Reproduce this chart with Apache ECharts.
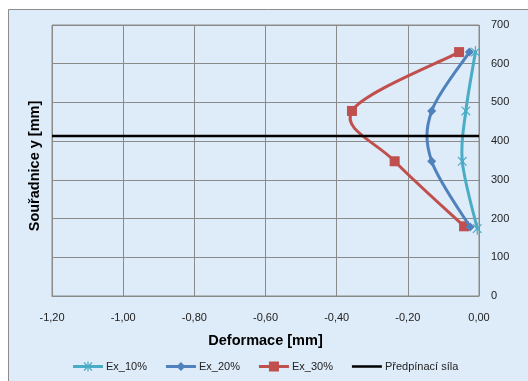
<!DOCTYPE html>
<html>
<head>
<meta charset="utf-8">
<script src="https://cdn.jsdelivr.net/npm/echarts@6/dist/echarts.min.js"></script>
<style>
html,body{margin:0;padding:0;background:#fff;}
#c{width:528px;height:381px;}
</style>
</head>
<body>
<div id="c"></div>
<script>
var seriesNames = ['Ex_10%', 'Ex_20%', 'Ex_30%', 'Předpínací síla'];
var ex10 = [[-0.010, 630], [-0.037, 478], [-0.047, 348], [-0.005, 174]];
var ex20 = [[-0.027, 630], [-0.133, 478], [-0.133, 348], [-0.025, 178]];
var ex30 = [[-0.056, 630], [-0.357, 478], [-0.237, 348], [-0.042, 180]];
var predpinaci = [[-1.2, 413], [0, 413]];
var xTitle = 'Deformace [mm]';
var yTitle = 'Souřadnice y [mm]';

var FONT = 'Liberation Sans';
var C10 = '#4BACC6', C20 = '#4F81BD', C30 = '#C0504D';

function markerShapes(kind, p, color) {
  var x = p[0], y = p[1];
  if (kind === 'rect') {
    return [{type: 'rect', shape: {x: x - 5, y: y - 5, width: 10, height: 10}, style: {fill: color}}];
  }
  if (kind === 'diamond') {
    return [{type: 'polygon', shape: {points: [[x, y - 4.5], [x + 4.5, y], [x, y + 4.5], [x - 4.5, y]]}, style: {fill: color}}];
  }
  // asterisk
  var r = 6, d = 4.3;
  return [
    {type: 'line', shape: {x1: x, y1: y - r, x2: x, y2: y + r}, style: {stroke: color, lineWidth: 1.2}},
    {type: 'line', shape: {x1: x - d, y1: y - d, x2: x + d, y2: y + d}, style: {stroke: color, lineWidth: 1.2}},
    {type: 'line', shape: {x1: x + d, y1: y - d, x2: x - d, y2: y + d}, style: {stroke: color, lineWidth: 1.2}}
  ];
}

function smoothSeries(name, arr, color, kind, z) {
  return {
    name: name, type: 'custom', z: z, data: arr,
    itemStyle: {color: color},
    renderItem: function (params, api) {
      var i = params.dataIndex, n = arr.length;
      var pt = function (k) { k = Math.max(0, Math.min(n - 1, k)); return api.coord(arr[k]); };
      var children = [];
      if (i < n - 1) {
        var p0 = pt(i - 1), p1 = pt(i), p2 = pt(i + 1), p3 = pt(i + 2);
        var t = 1 / 6;
        var c1 = [p1[0] + (p2[0] - p0[0]) * t, p1[1] + (p2[1] - p0[1]) * t];
        var c2 = [p2[0] - (p3[0] - p1[0]) * t, p2[1] - (p3[1] - p1[1]) * t];
        children.push({type: 'bezierCurve',
          shape: {x1: p1[0], y1: p1[1], cpx1: c1[0], cpy1: c1[1], cpx2: c2[0], cpy2: c2[1], x2: p2[0], y2: p2[1]},
          style: {stroke: color, lineWidth: 3, fill: null, lineCap: 'round'}});
      }
      children = children.concat(markerShapes(kind, pt(i), color));
      return {type: 'group', children: children};
    }
  };
}

var chart = echarts.init(document.getElementById('c'), null, {renderer: 'canvas'});
chart.setOption({
  animation: false,
  backgroundColor: '#ffffff',
  graphic: [{
    type: 'rect', z: -10, silent: true,
    shape: {x: 8.5, y: 9.5, width: 540, height: 400},
    style: {fill: '#DEEBF8', stroke: '#8c8c8c', lineWidth: 1}
  }, {
    type: 'text', silent: true, x: 35, y: 166, rotation: Math.PI / 2,
    style: {text: yTitle, font: 'bold 14.5px "Liberation Sans"', fill: '#000', align: 'center', verticalAlign: 'middle'}
  }],
  grid: {left: 52, top: 25, right: 49, bottom: 85, outerBoundsMode: 'none', containLabel: false,
    show: true, borderColor: '#8a8a8a', borderWidth: 1, backgroundColor: 'transparent'},
  xAxis: {
    type: 'value', min: -1.2, max: 0, interval: 0.2,
    name: xTitle, nameLocation: 'middle', nameGap: 37,
    nameTextStyle: {fontFamily: FONT, fontSize: 14.5, fontWeight: 'bold', color: '#000'},
    axisLine: {show: true, lineStyle: {color: '#8a8a8a'}},
    axisTick: {show: false},
    axisLabel: {fontFamily: FONT, fontSize: 11, color: '#222', margin: 16,
      formatter: function (v) { return v.toFixed(2).replace('.', ','); }},
    splitLine: {show: true, lineStyle: {color: '#8a8a8a', width: 1}}
  },
  yAxis: {
    type: 'value', min: 0, max: 700, interval: 100, position: 'right',
    axisLine: {show: false},
    axisTick: {show: false},
    axisLabel: {fontFamily: FONT, fontSize: 11, color: '#222', margin: 12, align: 'left'},
    splitLine: {show: true, lineStyle: {color: '#8a8a8a', width: 1}}
  },
  legend: {
    bottom: 4, left: 68, itemGap: 19, itemWidth: 30, itemHeight: 10,
    textStyle: {fontFamily: FONT, fontSize: 11, color: '#222', padding: [0, 0, 0, -2]},
    data: [
      {name: seriesNames[0], icon: 'path://M0,3.5H30V6.5H0Z M14.4,0H15.6V10H14.4Z M10.6,1.4L11.4,0.6L19.4,8.6L18.6,9.4Z M18.6,0.6L19.4,1.4L11.4,9.4L10.6,8.6Z'},
      {name: seriesNames[1], icon: 'path://M0,3.5H30V6.5H0Z M15,0.5L19.5,5L15,9.5L10.5,5Z'},
      {name: seriesNames[2], icon: 'path://M0,3.5H30V6.5H0Z M10,0H20V10H10Z'},
      {name: seriesNames[3], icon: 'path://M0,3.8H30V6.2H0Z M0,0H0.01V10H0Z'}
    ]
  },
  series: [
    smoothSeries(seriesNames[0], ex10, C10, 'asterisk', 4),
    smoothSeries(seriesNames[1], ex20, C20, 'diamond', 3),
    smoothSeries(seriesNames[2], ex30, C30, 'rect', 2),
    {name: seriesNames[3], type: 'line', data: predpinaci, z: 5,
      lineStyle: {color: '#000000', width: 2.5}, itemStyle: {color: '#000000'},
      symbol: 'none'}
  ]
});
</script>
</body>
</html>
